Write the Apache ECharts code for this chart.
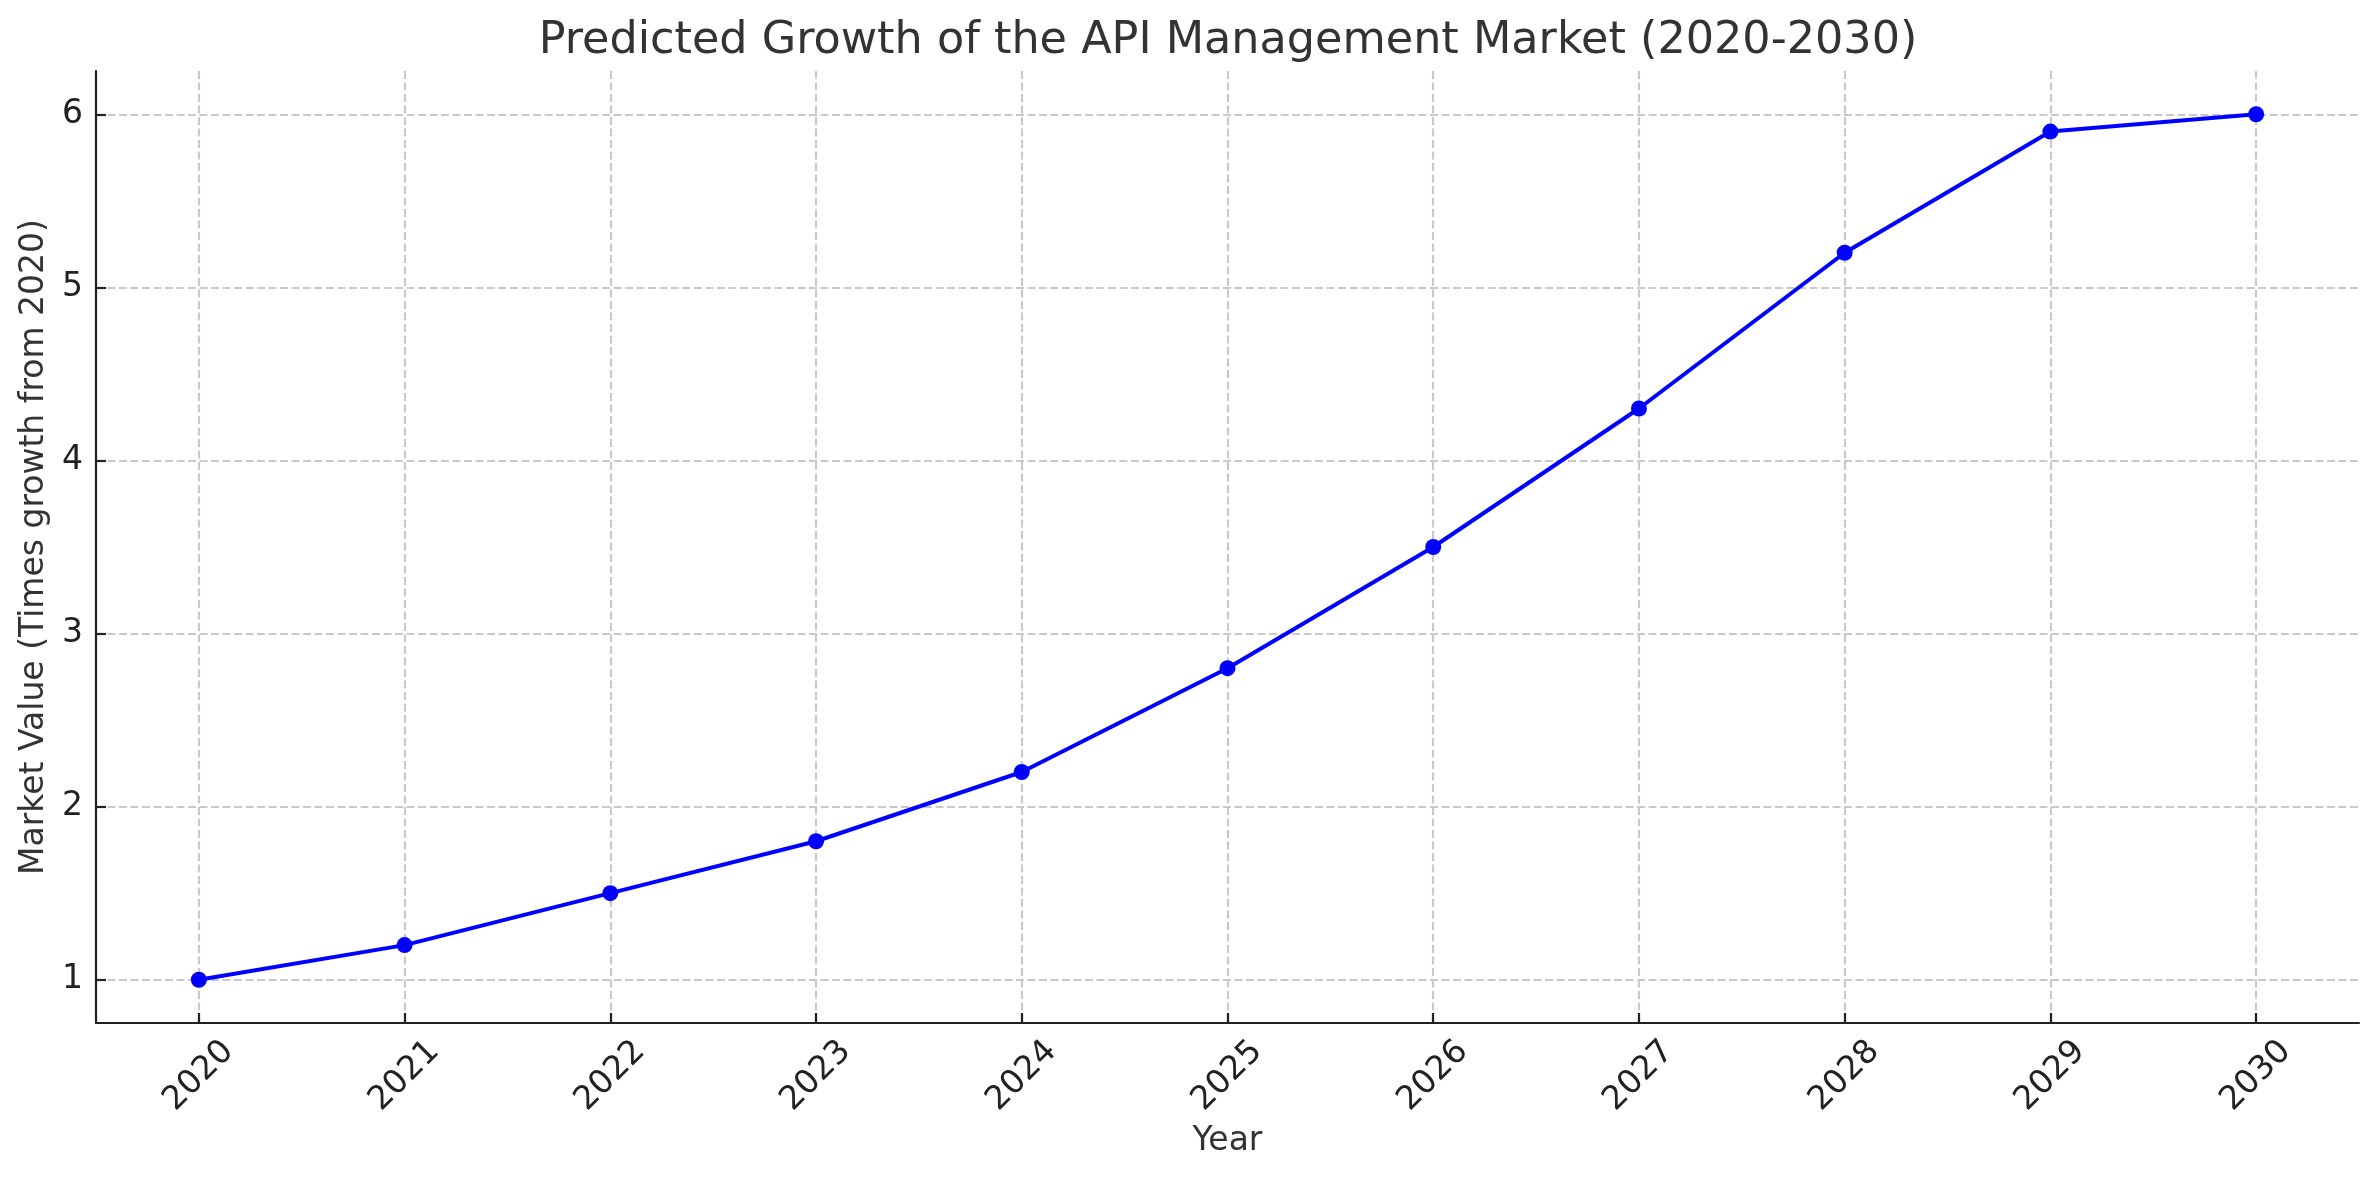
<!DOCTYPE html>
<html>
<head>
<meta charset="utf-8">
<script src="https://cdn.jsdelivr.net/npm/echarts@6/dist/echarts.min.js"></script>
<style>
html,body{margin:0;padding:0;background:#fff;}
#chart{width:2379px;height:1180px;}
</style>
</head>
<body>
<div id="chart"></div>
<script>
const years = [2020, 2021, 2022, 2023, 2024, 2025, 2026, 2027, 2028, 2029, 2030];
const marketValue = [1.0, 1.2, 1.5, 1.8, 2.2, 2.8, 3.5, 4.3, 5.2, 5.9, 6.0];
const yTicks = [1, 2, 3, 4, 5, 6];
const xTicks = years;

const FONT = 'DejaVu Sans';
const chart = echarts.init(document.getElementById('chart'), null, {renderer: 'canvas'});

const gridLine = {show: true, lineStyle: {color: '#c9c9c9', width: 2.2, type: [8, 3.5]}};

chart.setOption({
  backgroundColor: '#ffffff',
  animation: false,
  title: {
    text: 'Predicted Growth of the API Management Market (2020-2030)',
    left: 1223, textAlign: 'center', top: 14,
    textStyle: {fontFamily: FONT, fontSize: 44.5, fontWeight: 'normal', color: '#333333'}
  },
  grid: {left: 96, right: 20, top: 71, bottom: 157, containLabel: false},
  xAxis: {
    type: 'value',
    min: 2019.5, max: 2030.5,
    name: 'Year', nameLocation: 'middle', nameGap: 102,
    nameTextStyle: {fontFamily: FONT, fontSize: 33, color: '#333333'},
    axisLine: {show: true, onZero: false, lineStyle: {color: '#222222', width: 2.2}},
    axisTick: {show: true, length: 10, inside: true, customValues: xTicks, lineStyle: {color: '#222222', width: 2.2}},
    axisLabel: {
      customValues: xTicks, rotate: 45, align: 'center', verticalAlign: 'middle', margin: 53,
      fontFamily: FONT, fontSize: 33, color: '#222222',
      formatter: v => String(v)
    },
    splitLine: gridLine
  },
  yAxis: {
    type: 'value',
    min: 0.75, max: 6.25,
    name: 'Market Value (Times growth from 2020)', nameLocation: 'middle', nameGap: 43, nameRotate: 90,
    nameTextStyle: {fontFamily: FONT, fontSize: 33, color: '#333333'},
    axisLine: {show: true, onZero: false, lineStyle: {color: '#222222', width: 2.2}},
    axisTick: {show: true, length: 10, inside: true, customValues: yTicks, lineStyle: {color: '#222222', width: 2.2}},
    axisLabel: {customValues: yTicks, margin: 13, fontFamily: FONT, fontSize: 33, color: '#222222', formatter: v => String(v)},
    splitLine: gridLine
  },
  series: [{
    type: 'line',
    data: years.map((y, i) => [y, marketValue[i]]),
    symbol: 'circle', symbolSize: 16, showSymbol: true,
    lineStyle: {color: '#0000ff', width: 4},
    itemStyle: {color: '#0000ff'},
    z: 3
  }]
});
</script>
</body>
</html>
